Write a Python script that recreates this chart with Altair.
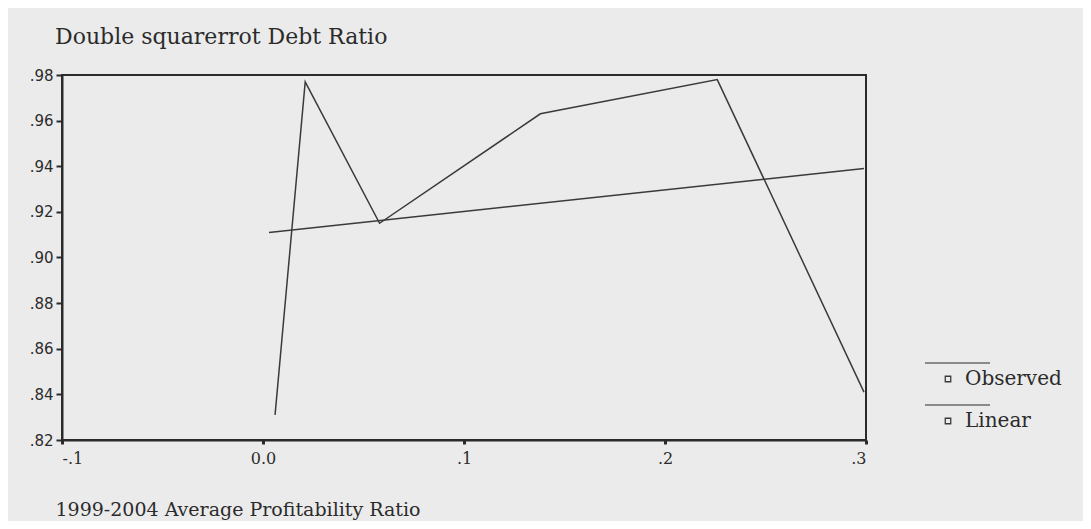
import altair as alt
import pandas as pd

# Observed series
obs_x = [0.006, 0.021, 0.058, 0.138, 0.226, 0.299]
obs_y = [0.831, 0.977, 0.915, 0.963, 0.978, 0.841]
# Linear fit line endpoints
lin_x = [0.003, 0.299]
lin_y = [0.911, 0.939]

x_ticks = [-0.1, 0.0, 0.1, 0.2, 0.3]
y_ticks = [0.82, 0.84, 0.86, 0.88, 0.90, 0.92, 0.94, 0.96, 0.98]
series_names = ["Observed", "Linear"]

rows = []
for i, (a, b) in enumerate(zip(obs_x, obs_y)):
    rows.append({"x": a, "y": b, "series": "Observed", "o": i})
for i, (a, b) in enumerate(zip(lin_x, lin_y)):
    rows.append({"x": a, "y": b, "series": "Linear", "o": i})
df = pd.DataFrame(rows)

BG = "#ebebeb"
INK = "#2b2b2b"
W, H = 804, 365

lines = alt.Chart(df).mark_line(strokeWidth=1.5).encode(
    x=alt.X("x:Q",
            scale=alt.Scale(domain=[-0.1, 0.3], nice=False, zero=False),
            axis=alt.Axis(values=x_ticks,
                          labelExpr="datum.value == 0 ? '0.0' : (datum.value < 0 ? '-' : '') + replace(format(abs(datum.value), '.1f'), '0.', '.')",
                          title="1999-2004 Average Profitability Ratio",
                          titleAnchor="start", titleAlign="left",
                          titleX=-7, titleY=75, titleBaseline="alphabetic",
                          titleFont="DejaVu Serif", titleFontSize=19,
                          titleFontWeight="normal", titleColor=INK,
                          labelFont="DejaVu Serif", labelFontSize=16,
                          labelColor=INK, labelPadding=6,
                          tickSize=4, tickWidth=3, tickColor=INK,
                          domainColor=INK, domainWidth=2, grid=False)),
    y=alt.Y("y:Q",
            scale=alt.Scale(domain=[0.82, 0.98], nice=False, zero=False),
            axis=alt.Axis(values=y_ticks,
                          labelExpr="replace(format(datum.value, '.2f'), '0.', '.')",
                          title=None,
                          labelFont="DejaVu Sans", labelFontSize=15,
                          labelColor=INK, labelPadding=3,
                          tickSize=6, tickWidth=2, tickColor=INK,
                          domainColor=INK, domainWidth=2, grid=False)),
    color=alt.Color("series:N",
                    scale=alt.Scale(domain=series_names, range=["#3a3a3a", "#3a3a3a"]),
                    legend=alt.Legend(title=None, orient="none",
                                      legendX=876, legendY=294, padding=0,
                                      symbolType="square", symbolSize=30,
                                      symbolFillColor=BG, symbolStrokeColor=INK,
                                      symbolStrokeWidth=1.3,
                                      labelFont="DejaVu Serif", labelFontSize=20,
                                      labelColor=INK, labelOffset=7,
                                      rowPadding=22)),
    detail="series:N",
    order="o:Q",
)

rule_df = pd.DataFrame({"k": [0]})
rule1 = alt.Chart(rule_df).mark_rule(color=INK, strokeWidth=1.2).encode(
    x=alt.value(863), x2=alt.value(928), y=alt.value(288)
)
rule2 = alt.Chart(rule_df).mark_rule(color=INK, strokeWidth=1.2).encode(
    x=alt.value(863), x2=alt.value(928), y=alt.value(330)
)

chart = alt.layer(lines, rule1, rule2).properties(
    width=W, height=H,
    title=alt.TitleParams("Double squarerrot Debt Ratio", anchor="start", frame="group",
                          font="DejaVu Serif", fontSize=22, fontWeight="normal",
                          color=INK, dx=-7, offset=19),
    autosize=alt.AutoSizeParams(type="none"),
    padding={"left": 54, "top": 67, "right": 217, "bottom": 81},
    background=BG,
).configure_view(stroke=INK, strokeWidth=2, fill=BG)

chart.save("out.html", embed_options={"renderer": "svg", "actions": False})
